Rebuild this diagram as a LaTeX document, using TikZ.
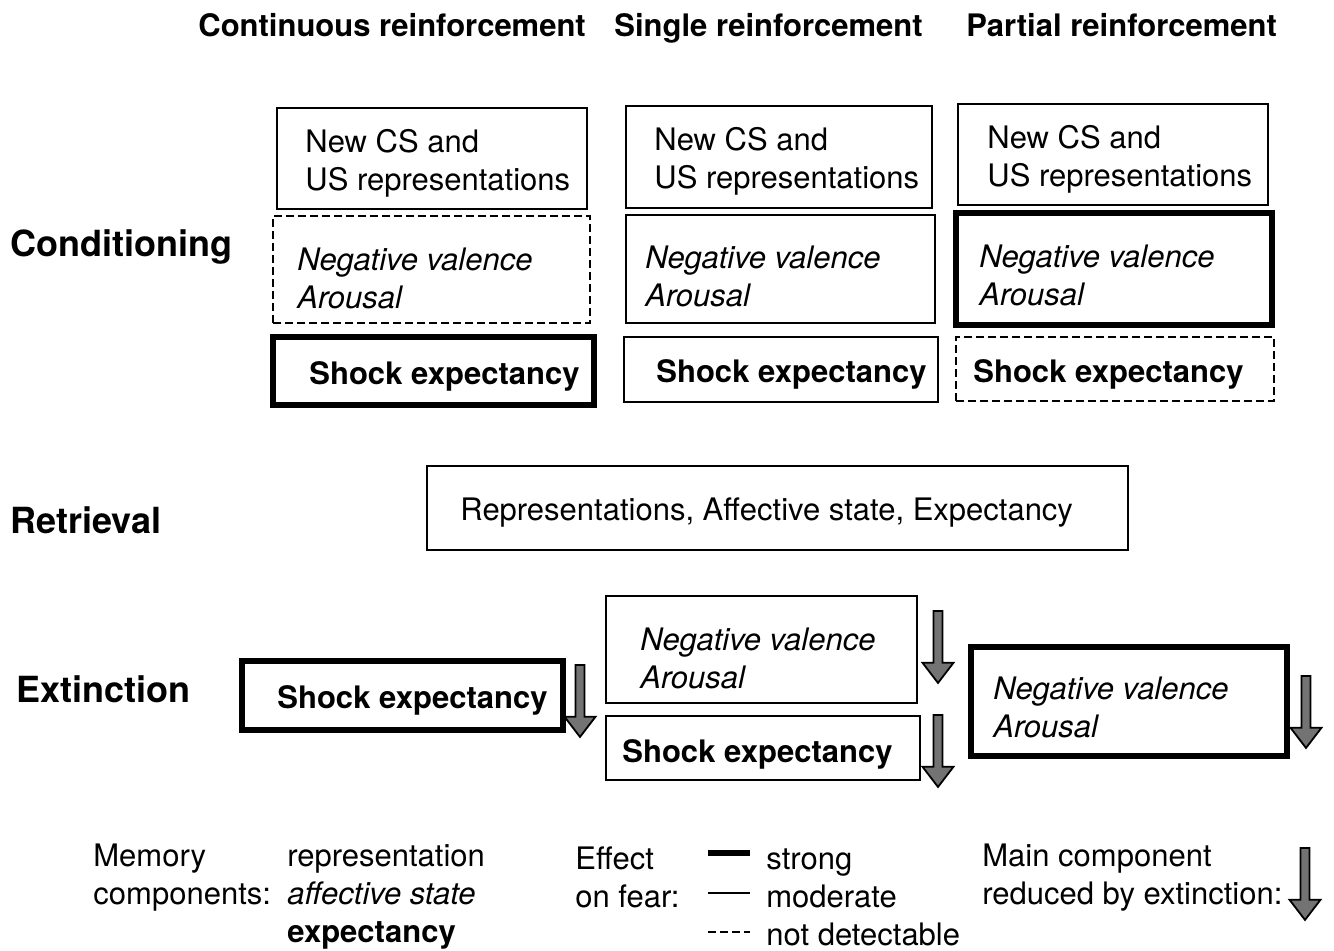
\documentclass[tikz,border=0pt]{standalone}
\usepackage{fontspec}
\setmainfont{TeX Gyre Heros}
\usetikzlibrary{shapes.arrows}
\begin{document}
\begin{tikzpicture}[x=0.5pt,y=-0.5pt,
  every node/.style={font=\fontsize{15.5}{19}\selectfont},
  txt/.style={anchor=west,align=left,inner sep=0pt},
  header/.style={anchor=base west,inner sep=0pt,font=\fontsize{15.5}{19}\selectfont\bfseries},
  rowlabel/.style={anchor=west,inner sep=0pt,font=\fontsize{18}{22}\selectfont\bfseries},
  strongbox/.style={draw,line width=2.8pt,inner sep=0pt},
  modbox/.style={draw,line width=1pt,inner sep=0pt},
  weakbox/.style={draw,line width=1pt,dash pattern=on 4pt off 2pt,inner sep=0pt},
  downarrow/.style={single arrow,draw,line width=0.9pt,fill=black!55,rotate=-90,
    inner xsep=0pt,inner ysep=1.8pt,single arrow head extend=5.5pt,
    single arrow tip angle=75,minimum height=36pt}]

\useasboundingbox (0,0) rectangle (1334,950);

% Headers
\node[header] (hCont) at (198,36) {Continuous reinforcement};
\node[header] (hSing) at (614,36) {Single reinforcement};
\node[header] (hPart) at (966,36) {Partial reinforcement};

% Row labels
\node[rowlabel] (lCond) at (10,247) {Conditioning};
\node[rowlabel] (lRetr) at (10,520) {Retrieval};
\node[rowlabel] (lExt) at (16,689) {Extinction};

% Conditioning, continuous
\node[modbox,minimum width=155pt,minimum height=50.5pt] (c1rep) at (432,158.5) {};
\node[txt] (c1repT) at (305,163) {New CS and\\US representations};
\node[weakbox,minimum width=158.5pt,minimum height=53.5pt] (c1aff) at (431.5,269.5) {};
\node[txt] (c1affT) at (297,278) {\itshape Negative valence\\\itshape Arousal};
\node[strongbox,minimum width=160.5pt,minimum height=34pt] (c1exp) at (433.5,371) {};
\node[txt,font=\fontsize{15.5}{19}\selectfont\bfseries] (c1expT) at (309,376) {Shock expectancy};

% Conditioning, single
\node[modbox,minimum width=153pt,minimum height=51pt] (c2rep) at (779,157) {};
\node[txt] (c2repT) at (654,161) {New CS and\\US representations};
\node[modbox,minimum width=154.5pt,minimum height=54pt] (c2aff) at (780.5,269) {};
\node[txt] (c2affT) at (645,276) {\itshape Negative valence\\\itshape Arousal};
\node[modbox,minimum width=157pt,minimum height=32.5pt] (c2exp) at (781,369.5) {};
\node[txt,font=\fontsize{15.5}{19}\selectfont\bfseries] (c2expT) at (656,374) {Shock expectancy};

% Conditioning, partial
\node[modbox,minimum width=155pt,minimum height=50.5pt] (c3rep) at (1113,154.5) {};
\node[txt] (c3repT) at (987,159) {New CS and\\US representations};
\node[strongbox,minimum width=158pt,minimum height=56pt] (c3aff) at (1114,269) {};
\node[txt] (c3affT) at (979,275) {\itshape Negative valence\\\itshape Arousal};
\node[weakbox,minimum width=159pt,minimum height=32pt] (c3exp) at (1115,369) {};
\node[txt,font=\fontsize{15.5}{19}\selectfont\bfseries] (c3expT) at (973,374) {Shock expectancy};

% Retrieval
\node[modbox,minimum width=350.5pt,minimum height=42pt] (ret) at (777.5,508) {};
\node[txt] (retT) at (460,513) {Representations, Affective state, Expectancy};

% Extinction
\node[strongbox,minimum width=160.5pt,minimum height=34.5pt] (e1exp) at (402.5,695.5) {};
\node[txt,font=\fontsize{15.5}{19}\selectfont\bfseries] (e1expT) at (277,700) {Shock expectancy};
\node[modbox,minimum width=155.5pt,minimum height=53.5pt] (e2aff) at (761.5,649.5) {};
\node[txt] (e2affT) at (640,658) {\itshape Negative valence\\\itshape Arousal};
\node[modbox,minimum width=157pt,minimum height=32pt] (e2exp) at (763,748) {};
\node[txt,font=\fontsize{15.5}{19}\selectfont\bfseries] (e2expT) at (622,754) {Shock expectancy};
\node[strongbox,minimum width=158pt,minimum height=54.5pt] (e3aff) at (1129,701.5) {};
\node[txt] (e3affT) at (993,707) {\itshape Negative valence\\\itshape Arousal};

% Arrows
\node[downarrow] (a1) at (580,698) {};
\node[downarrow] (a2) at (938,644) {};
\node[downarrow] (a3) at (938,748) {};
\node[downarrow] (a4) at (1306,709) {};

% Legend
\node[txt] (memA) at (93,878) {Memory\\components:};
\node[txt] (memB) at (287,897) {representation\\\textit{affective state}\\\textbf{expectancy}};
\node[txt] (effA) at (575,877) {Effect\\on fear:};
\node[txt] (effB) at (766,897) {strong\\moderate\\not detectable};
\node[txt] (mainA) at (982,878) {Main component\\reduced by extinction:};
\node[downarrow] (legArr) at (1305,881) {};

\draw[line width=3pt] (708,853) -- (750,853);
\draw[line width=1pt] (708,893) -- (750,893);
\draw[line width=1pt,dash pattern=on 4pt off 2pt] (708,932) -- (750,932);

\end{tikzpicture}
\end{document}
